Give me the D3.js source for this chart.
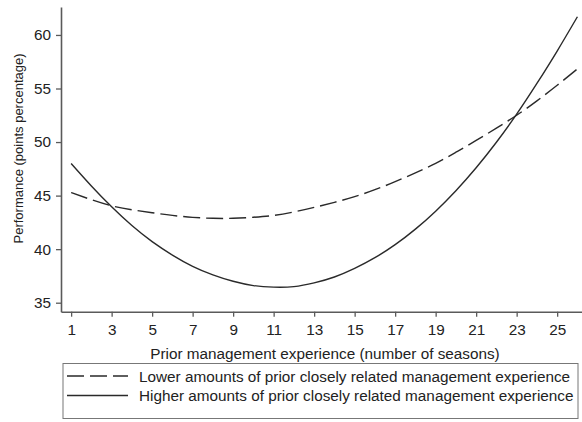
<!DOCTYPE html>
<html>
<head>
<meta charset="utf-8">
<script src="https://cdn.jsdelivr.net/npm/d3@7"></script>
<style>
  html, body { margin: 0; padding: 0; background: #fff; }
  svg { display: block; }
  text { font-family: "Liberation Sans", Arial, sans-serif; fill: #222; }
</style>
</head>
<body>
<svg id="chart" width="582" height="422"></svg>
<script>
const seasons = [1,2,3,4,5,6,7,8,9,10,11,12,13,14,15,16,17,18,19,20,21,22,23,24,25,26];
const lowerSeries = [45.28,44.62,44.05,43.68,43.4,43.15,42.97,42.88,42.88,42.98,43.15,43.48,43.9,44.37,44.9,45.55,46.3,47.12,48.0,49.05,50.15,51.3,52.5,53.85,55.3,56.83];
const higherSeries = [48.0,45.9,43.95,42.2,40.7,39.45,38.4,37.6,37.0,36.6,36.45,36.5,36.85,37.4,38.2,39.2,40.42,41.87,43.55,45.46,47.6,49.98,52.6,55.47,58.5,61.7];
const xTicks = [1,3,5,7,9,11,13,15,17,19,21,23,25];
const yTicks = [35,40,45,50,55,60];
const seriesNames = ["Lower amounts of prior closely related management experience",
                     "Higher amounts of prior closely related management experience"];
const xTitle = "Prior management experience (number of seasons)";
const yTitle = "Performance (points percentage)";

const svg = d3.select("#chart");
const axisColor = "#5a5a5a";
const lineColor = "#2a2a2a";
const fontSize = "15.3px";

const x = d3.scaleLinear().domain([0.5, 26.75]).range([61, 592.6]);
const y = d3.scaleLinear().domain([34.16, 62.61]).range([311.7, 7]);

// Axes
const gx = svg.append("g").attr("transform", "translate(0,311.7)")
  .call(d3.axisBottom(x).tickValues(xTicks).tickSize(5).tickSizeOuter(0).tickPadding(7).tickFormat(d3.format("d")));
const gy = svg.append("g").attr("transform", "translate(61,0)")
  .call(d3.axisLeft(y).tickValues(yTicks).tickSize(5).tickSizeOuter(0).tickPadding(5).tickFormat(d3.format("d")));
[gx, gy].forEach(g => {
  g.attr("font-size", null).attr("font-family", null);
  g.select(".domain").attr("stroke", axisColor).attr("stroke-width", 1.6);
  g.selectAll(".tick line").attr("stroke", axisColor).attr("stroke-width", 1.3);
  g.selectAll(".tick text").style("font-size", fontSize).attr("fill", "#222");
});

// Titles
svg.append("text").attr("x", 325).attr("y", 359).attr("text-anchor", "middle")
  .style("font-size", fontSize).text(xTitle);
svg.append("text").attr("transform", "translate(22.5,148.5) rotate(-90)").attr("text-anchor", "middle")
  .style("font-size", "13px").text(yTitle);

// Lines
const line = d3.line().x((d, i) => x(seasons[i])).y(d => y(d)).curve(d3.curveNatural);
svg.append("path").datum(lowerSeries).attr("d", line)
  .attr("fill", "none").attr("stroke", lineColor).attr("stroke-width", 1.4).attr("stroke-dasharray", "17,6");
svg.append("path").datum(higherSeries).attr("d", line)
  .attr("fill", "none").attr("stroke", lineColor).attr("stroke-width", 1.4);

// Legend
const lg = svg.append("g");
lg.append("rect").attr("x", 63).attr("y", 363.5).attr("width", 515).attr("height", 55)
  .attr("fill", "none").attr("stroke", "#777").attr("stroke-width", 1);
const rows = [376, 395.5];
const dashes = ["17,6", null];
seriesNames.forEach((name, i) => {
  const l = lg.append("line").attr("x1", 67).attr("x2", 128).attr("y1", rows[i]).attr("y2", rows[i])
    .attr("stroke", lineColor).attr("stroke-width", 1.4);
  if (dashes[i]) l.attr("stroke-dasharray", dashes[i]);
  lg.append("text").attr("x", 139).attr("y", rows[i] + 5.5).style("font-size", fontSize).text(name);
});
</script>
</body>
</html>
